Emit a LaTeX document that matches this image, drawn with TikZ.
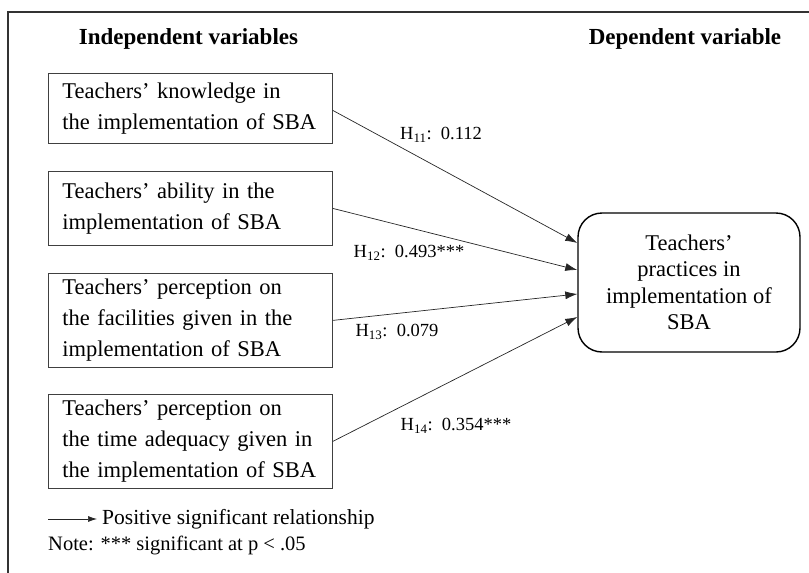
\documentclass[tikz,border=0pt]{standalone}
\usepackage{fontspec}
\setmainfont{Liberation Serif}
\usetikzlibrary{arrows.meta,positioning}

\tikzset{
  indep/.style={draw=black!75, line width=0.8pt, rectangle, anchor=north west,
    align=left, text width=268pt, inner xsep=8pt, minimum width=284pt,
    font=\fontsize{22.5}{31}\selectfont},
  dep/.style={draw=black, line width=1.4pt, rounded corners=24pt, align=center,
    minimum width=222pt, minimum height=139pt, font=\fontsize{22.5}{26.5}\selectfont},
  head/.style={font=\fontsize{23}{26}\selectfont\bfseries},
  hlab/.style={font=\fontsize{18.5}{20}\selectfont, inner sep=0pt},
  link/.style={draw=black!85, line width=0.7pt, -{Latex[length=12pt,width=8pt]}},
}

\begin{document}
\begin{tikzpicture}[x=1pt,y=-1pt]
\useasboundingbox (0,0) rectangle (809,573);
% frame
\draw [black!80, line width=1.8pt] (809,12) -- (8,12) -- (8,573);
\node [head] (hindep) at (188.5,39) {Independent variables};
\node [head] (hdep) at (685,39) {Dependent variable};
% independent variables
\node [indep, minimum height=70pt] (know) at (48,73) {\hspace*{6pt}Teachers’ knowledge in\\\hspace*{6pt}the implementation of SBA};
\node [indep, minimum height=74pt] (abil) at (48,171) {\hspace*{6pt}Teachers’ ability in the\\\hspace*{6pt}implementation of SBA};
\node [indep, minimum height=94pt] (facil) at (48,273) {\hspace*{6pt}Teachers’ perception on\\\hspace*{6pt}the facilities given in the\\\hspace*{6pt}implementation of SBA};
\node [indep, minimum height=94pt] (time) at (48,394) {\hspace*{6pt}Teachers’ perception on\\\hspace*{6pt}the time adequacy given in\\\hspace*{6pt}the implementation of SBA};
% dependent variable
\node [dep] (prac) at (689,282.5) {Teachers’\\practices in\\implementation of\\SBA};
% hypotheses
\draw [link] ([yshift=-2pt]know.east) -- ([yshift=39.5pt]prac.west);
\draw [link] (abil.east) -- ([yshift=12.5pt]prac.west);
\draw [link] (facil.east) -- ([yshift=-11.5pt]prac.west);
\draw [link] (time.east) -- ([yshift=-34.5pt]prac.west);
\node [hlab] (h11) at (441,135) {H\textsubscript{11}:\ \ 0.112};
\node [hlab] (h12) at (409,253) {H\textsubscript{12}:\ \ 0.493***};
\node [hlab] (h13) at (397,332) {H\textsubscript{13}:\ \ 0.079};
\node [hlab] (h14) at (456,426) {H\textsubscript{14}:\ \ 0.354***};
% legend
\coordinate (lgs) at (48,519);
\coordinate (lge) at (97,519);
\draw [link, -{Latex[length=9pt,width=6pt]}] (lgs) -- (lge);
\node [anchor=west, inner xsep=2pt, font=\fontsize{21.5}{24}\selectfont] (lgtext) at (100,519) {Positive significant relationship};
\node [anchor=west, inner xsep=2pt, font=\fontsize{20.5}{24}\selectfont] (note) at (46,545) {Note: *** significant at p < .05};
\end{tikzpicture}
\end{document}
